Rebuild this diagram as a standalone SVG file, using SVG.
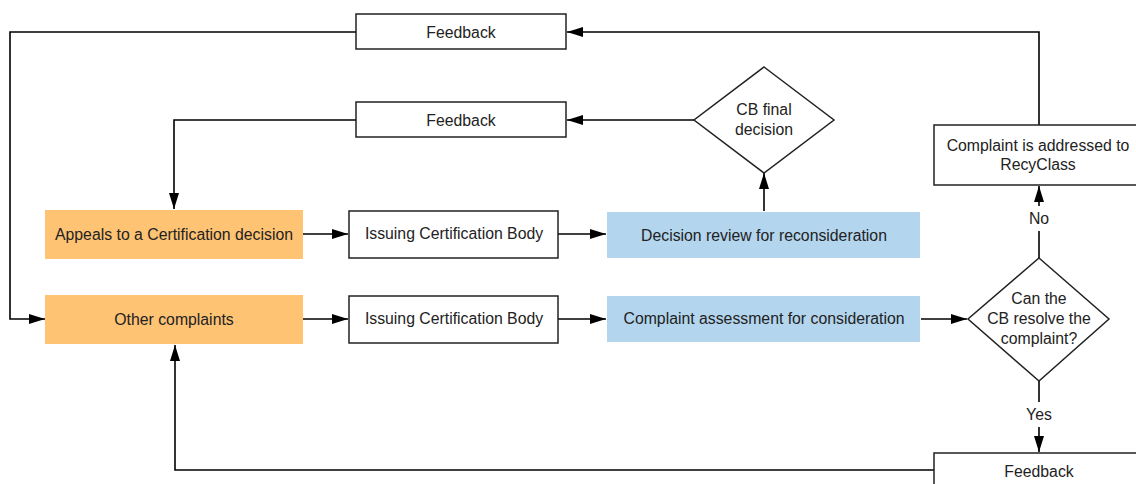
<svg xmlns="http://www.w3.org/2000/svg" width="1136" height="484" viewBox="0 0 1136 484">
<defs>
<marker id="ahl" viewBox="0 0 16 10" refX="16" refY="5" markerWidth="16" markerHeight="10" markerUnits="userSpaceOnUse" orient="auto">
<path d="M0,0 L16,5 L0,10 z" fill="#000"/>
</marker>
</defs>
<style>
text{font-family:"Liberation Sans",Arial,sans-serif;font-size:15.8px;fill:#222;text-anchor:middle;dominant-baseline:central}
.box{fill:#fff;stroke:#222;stroke-width:1.5}
.orange{fill:#FFC374}
.blue{fill:#B3D5EE}
.c{fill:none;stroke:#000;stroke-width:1.6;marker-end:url(#ahl)}
.n{fill:none;stroke:#000;stroke-width:1.6}
</style>
<rect width="1136" height="484" fill="#fff"/>
<g id="connectors">
<path class="c" d="M356,32 H10 V319 H45"/>
<path class="c" d="M356,120 H174 V209"/>
<path class="c" d="M694,120 H567"/>
<path class="c" d="M1039,125 V32 H567"/>
<path class="c" d="M764,211 V173"/>
<path class="c" d="M303,234 H348"/>
<path class="c" d="M558,234 H606"/>
<path class="c" d="M303,319 H348"/>
<path class="c" d="M558,319 H606"/>
<path class="c" d="M921,319 H967"/>
<path class="n" d="M1039,258 V231"/>
<path class="c" d="M1039,206 V186"/>
<text x="1039" y="218">No</text>
<path class="n" d="M1039,381 V402"/>
<path class="c" d="M1039,427 V452"/>
<text x="1039" y="414">Yes</text>
<path class="c" d="M934,470 H175 V345"/>
</g>
<g id="feedback1"><rect class="box" x="356" y="14" width="210" height="35"/><text x="461" y="32">Feedback</text></g>
<g id="feedback2"><rect class="box" x="356" y="102" width="210" height="35"/><text x="461" y="120">Feedback</text></g>
<g id="cb-final"><path class="box" d="M764,67 L834,120 L764,173 L694,120 z"/><text x="764" y="109">CB final</text><text x="764" y="129">decision</text></g>
<g id="recyclass"><rect class="box" x="934" y="125" width="210" height="60"/><text x="1038" y="145">Complaint is addressed to</text><text x="1038" y="164">RecyClass</text></g>
<g id="appeals"><rect class="orange" x="45" y="210" width="258" height="49"/><text x="174" y="234">Appeals to a Certification decision</text></g>
<g id="issuing1"><rect class="box" x="349" y="211" width="209" height="47"/><text x="454" y="233">Issuing Certification Body</text></g>
<g id="decision-review"><rect class="blue" x="607" y="212" width="313" height="46"/><text x="764" y="235">Decision review for reconsideration</text></g>
<g id="other"><rect class="orange" x="45" y="295" width="258" height="49"/><text x="174" y="319">Other complaints</text></g>
<g id="issuing2"><rect class="box" x="349" y="296" width="209" height="47"/><text x="454" y="318">Issuing Certification Body</text></g>
<g id="assessment"><rect class="blue" x="607" y="296" width="313" height="46"/><text x="764" y="318">Complaint assessment for consideration</text></g>
<g id="resolve"><path class="box" d="M1039,258 L1109,319 L1039,381 L968,319 z"/><text x="1039" y="298">Can the</text><text x="1039" y="318">CB resolve the</text><text x="1039" y="338">complaint?</text></g>
<g id="feedback3"><rect class="box" x="934" y="453" width="210" height="40"/><text x="1039" y="471">Feedback</text></g>
</svg>
